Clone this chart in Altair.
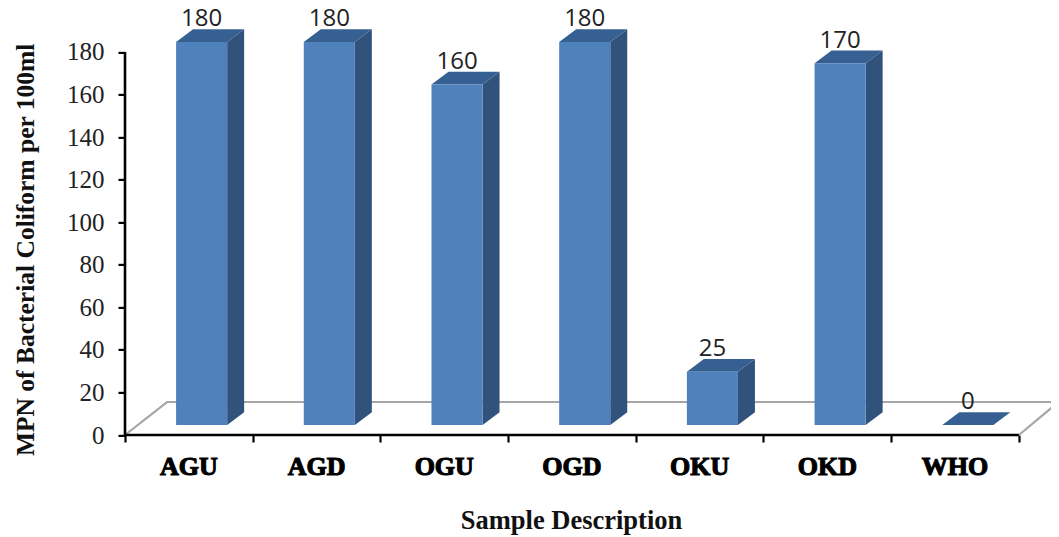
import altair as alt
import pandas as pd

categories = ["AGU", "AGD", "OGU", "OGD", "OKU", "OKD", "WHO"]
values = [180, 180, 160, 180, 25, 170, 0]
y_ticks = [0, 20, 40, 60, 80, 100, 120, 140, 160, 180]
x_ticks = [0, 1, 2, 3, 4, 5, 6, 7]

# depth construction of the 3-D look, in axis units
bar_left = 0.40
bar_width = 0.40
depth_x = 0.133
depth_y = 6.0
base = 4.7
floor_x = [0, 0.329, 7.31, 7]
floor_y = [0, 15.5, 15.5, 0]

X = alt.X("x:Q", scale=alt.Scale(domain=[0, 7.2514], nice=False, zero=False),
          axis=alt.Axis(values=x_ticks, labels=False, domain=False, grid=False,
                        tickSize=7, tickWidth=2.2, tickColor="#000000", title="Sample Description",
                        titleFont="Liberation Serif", titleFontWeight="bold", titleFontSize=26.5,
                        titleColor="#111111", titleX=446, titleY=85, titleAnchor="middle",
                        titleAlign="center", titleBaseline="middle"))
Y = alt.Y("y:Q", scale=alt.Scale(domain=[0, 200], nice=False),
          axis=alt.Axis(values=y_ticks, domain=False, grid=False, tickSize=7, tickWidth=2.2,
                        tickColor="#000000", labelFont="Liberation Serif", labelFontSize=25,
                        labelColor="#222222", labelPadding=14,
                        title="MPN of Bacterial Coliform per 100ml", titleFont="Liberation Serif",
                        titleFontWeight="bold", titleFontSize=25.5, titleColor="#111111",
                        titleX=-100, titleY=240, titleAnchor="middle", titleAlign="center",
                        titleBaseline="middle"))

floor = pd.DataFrame({"x": floor_x, "y": floor_y, "o": range(4)})
front, side, top = [], [], []
for i, (c, v) in enumerate(zip(categories, values)):
    x0 = i + bar_left
    x1 = x0 + bar_width
    b = base
    t = base + v
    front.append({"c": c, "x": x0, "x2": x1, "y": b, "y2": t})
    side += [{"c": c, "x": x1, "y": b, "y2": t},
             {"c": c, "x": x1 + depth_x, "y": b + depth_y, "y2": t + depth_y}]
    top += [{"c": c, "x": x0, "y": t, "y2": t},
            {"c": c, "x": x0 + depth_x, "y": t, "y2": t + depth_y},
            {"c": c, "x": x1, "y": t, "y2": t + depth_y},
            {"c": c, "x": x1 + depth_x, "y": t + depth_y, "y2": t + depth_y}]
front, side, top = map(pd.DataFrame, (front, side, top))
labels = pd.DataFrame({"c": categories, "v": values,
                       "x": [i + 0.5 for i in range(7)],
                       "bx": [i + bar_left + bar_width / 2 for i in range(7)],
                       "by": [base + v for v in values]})

floor_layer = alt.Chart(floor).mark_line(color="#A6A6A6", strokeWidth=2.2).encode(x=X, y=Y, order="o:O")
x_axis = alt.Chart(pd.DataFrame({"x": [0], "x2": [7], "y": [0]})).mark_rule(color="#000000", strokeWidth=2.6).encode(
    x=alt.X("x:Q"), x2="x2:Q", y=alt.Y("y:Q"))
y_axis = alt.Chart(pd.DataFrame({"x": [0], "y": [0], "y2": [180]})).mark_rule(color="#000000", strokeWidth=2.6).encode(
    x=alt.X("x:Q"), y=alt.Y("y:Q"), y2="y2:Q")
front_layer = alt.Chart(front[front.y2 > front.y]).mark_rect(color="#4F81BD").encode(
    x=alt.X("x:Q"), x2="x2:Q", y=alt.Y("y:Q"), y2="y2:Q")
side_layer = alt.Chart(side[side.y2 > side.y + 0.01]).mark_area(color="#31527B").encode(
    x=alt.X("x:Q"), y=alt.Y("y:Q"), y2="y2:Q", detail="c:N")
top_layer = alt.Chart(top).mark_area(color="#376092").encode(
    x=alt.X("x:Q"), y=alt.Y("y:Q"), y2="y2:Q", detail="c:N")
value_layer = alt.Chart(labels).mark_text(font="Open Sans", fontSize=24, color="#222222", dy=-22.5, baseline="middle").encode(
    x=alt.X("bx:Q"), y=alt.Y("by:Q"), text="v:Q")
cat_layer = alt.Chart(labels.assign(y=0)).mark_text(
    font="Liberation Serif", fontWeight="bold", fontSize=26, color="#000000", stroke="#000000",
    strokeWidth=1.1, dy=32, baseline="middle").encode(
    x=alt.X("x:Q"), y=alt.Y("y:Q"), text="c:N")

chart = alt.layer(floor_layer, side_layer, top_layer, front_layer, x_axis, y_axis, value_layer, cat_layer).properties(
    width=926, height=425.6,
    autosize=alt.AutoSizeParams(type="none"),
    padding={"left": 117, "top": 1.4, "right": 0, "bottom": 100},
).configure_view(stroke=None)

chart.save("out.html", embed_options={"renderer": "svg", "actions": False})
